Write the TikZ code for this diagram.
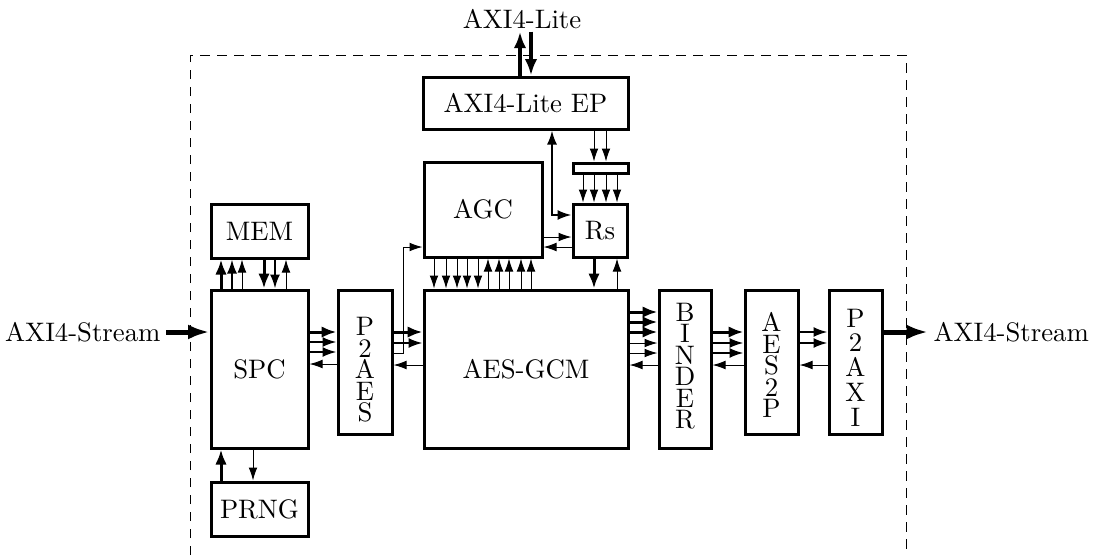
\documentclass[tikz,border=0pt]{standalone}
\usetikzlibrary{arrows.meta}
\begin{document}
\begin{tikzpicture}[x=0.4pt,y=-0.4pt,
  every node/.style={font=\fontsize{10.7}{13}\selectfont},
  blk/.style={draw,line width=1.2pt,inner sep=0pt,rectangle},
  sz/.style 2 args={minimum width=#1*0.4pt,minimum height=#2*0.4pt},
  thinar/.style={line width=0.4pt,-{Latex[length=5.2pt,width=3.5pt]}},
  medar/.style={line width=0.8pt,-{Latex[length=5.6pt,width=4pt]}},
  thickar/.style={line width=1.2pt,-{Latex[length=6pt,width=4.6pt]}},
  litear/.style={line width=1.6pt,-{Latex[length=6.6pt,width=5pt]}},
  streamar/.style={line width=2pt,-{Latex[length=8.6pt,width=6pt]}},
  frame/.style={line width=0.4pt,dash pattern=on 3.8pt off 3pt},
  vtext/.style={align=center,inner sep=0pt,font=\fontsize{10.7}{8.6}\selectfont},
]
\useasboundingbox (0,0) rectangle (1094,555);

% dashed frame
\draw[frame] (190,555) -- (190,55) -- (906,55) -- (906,555);

% blocks
\node[blk,sz={205}{52}] (ep) at (525.5,103) {AXI4-Lite EP};
\node[blk,sz={55}{10}] (bar) at (600.5,168) {};
\node[blk,sz={118}{95}] (agc) at (483,209.5) {AGC};
\node[blk,sz={54}{53}] (rs) at (600,230.5) {Rs};
\node[blk,sz={97}{54}] (mem) at (259.5,231) {MEM};
\node[blk,sz={97}{158}] (spc) at (259.5,369) {SPC};
\node[blk,sz={97}{54}] (prng) at (259.5,509) {PRNG};
\node[blk,sz={54}{144}] (p2aes) at (365,362) {};
\node[blk,sz={204}{158}] (gcm) at (526,369) {AES-GCM};
\node[blk,sz={52}{158}] (binder) at (685,369) {};
\node[blk,sz={53}{144}] (aes2p) at (771.5,362) {};
\node[blk,sz={53}{144}] (p2axi) at (855.5,362) {};

% vertical labels
\node[vtext] (t1) at (365,370) {P\\2\\A\\E\\S};
\node[vtext] (t2) at (685,366) {B\\I\\N\\D\\E\\R};
\node[vtext] (t3) at (771.5,365) {A\\E\\S\\2\\P};
\node[vtext,font=\fontsize{10.7}{9.9}\selectfont] (t4) at (855.5,367.5) {P\\2\\A\\X\\I};

% outside labels
\node[inner sep=1pt] (lite) at (522,19) {AXI4-Lite};
\node[anchor=east,inner sep=2pt] (sin) at (166,332) {AXI4-Stream};
\node[anchor=west,inner sep=2pt] (sout) at (928,332) {AXI4-Stream};

% AXI4-Lite
\draw[litear] (ep.north -| 520,0) -- (lite.south -| 520,0);
\draw[litear] (lite.south -| 531,0) -- (ep.north -| 531,0);

% EP -> bar -> Rs
\foreach \x in {594,606} \draw[thinar] (ep.south -| \x,0) -- (bar.north -| \x,0);
\foreach \x in {583,594,606,617} \draw[thinar] (bar.south -| \x,0) -- (rs.north -| \x,0);
\draw[line width=0.8pt,{Latex[length=5.6pt,width=4pt]}-{Latex[length=5.6pt,width=4pt]}] (ep.south -| 552,0) |- (rs.west |- 0,215);

% AGC <-> Rs
\draw[thinar] (agc.east |- 0,237) -- (rs.west |- 0,237);
\draw[thinar] (rs.west |- 0,247) -- (agc.east |- 0,247);

% AGC <-> AES-GCM
\foreach \x in {434,446,457,467,478} \draw[thinar] (agc.south -| \x,0) -- (gcm.north -| \x,0);
\foreach \x in {488,499,509,521,531} \draw[thinar] (gcm.north -| \x,0) -- (agc.south -| \x,0);

% Rs <-> AES-GCM
\draw[thickar] (rs.south -| 594,0) -- (gcm.north -| 594,0);
\draw[thinar] (gcm.north -| 617,0) -- (rs.south -| 617,0);

% MEM <-> SPC
\draw[thickar] (spc.north -| 221,0) -- (mem.south -| 221,0);
\draw[medar] (spc.north -| 232,0) -- (mem.south -| 232,0);
\draw[thinar] (spc.north -| 242,0) -- (mem.south -| 242,0);
\draw[thickar] (mem.south -| 264,0) -- (spc.north -| 264,0);
\draw[medar] (mem.south -| 275,0) -- (spc.north -| 275,0);
\draw[thinar] (spc.north -| 286,0) -- (mem.south -| 286,0);

% PRNG <-> SPC
\draw[thickar] (prng.north -| 221,0) -- (spc.south -| 221,0);
\draw[thinar] (spc.south -| 253,0) -- (prng.north -| 253,0);

% streams
\draw[streamar] (sin.east) -- (spc.west |- sin.east);
\draw[streamar] (p2axi.east |- sout.west) -- (sout.west);

% SPC <-> P2AES
\draw[thickar] (spc.east |- 0,332) -- (p2aes.west |- 0,332);
\draw[medar] (spc.east |- 0,342) -- (p2aes.west |- 0,342);
\draw[medar] (spc.east |- 0,352) -- (p2aes.west |- 0,352);
\draw[thinar] (p2aes.west |- 0,364) -- (spc.east |- 0,364);

% P2AES <-> AES-GCM / AGC
\draw[thickar] (p2aes.east |- 0,332) -- (gcm.west |- 0,332);
\draw[medar] (p2aes.east |- 0,343) -- (gcm.west |- 0,343);
\draw[thinar] (p2aes.east |- 0,353) -| (403,247) -- (agc.west |- 0,247);
\draw[thinar] (gcm.west |- 0,365) -- (p2aes.east |- 0,365);

% AES-GCM <-> BINDER
\foreach \y in {312,322,332} \draw[thickar] (gcm.east |- 0,\y) -- (binder.west |- 0,\y);
\foreach \y in {343,353} \draw[thinar] (gcm.east |- 0,\y) -- (binder.west |- 0,\y);
\draw[thinar] (binder.west |- 0,365) -- (gcm.east |- 0,365);

% BINDER <-> AES2P
\draw[thickar] (binder.east |- 0,332) -- (aes2p.west |- 0,332);
\draw[medar] (binder.east |- 0,343) -- (aes2p.west |- 0,343);
\draw[medar] (binder.east |- 0,353) -- (aes2p.west |- 0,353);
\draw[thinar] (aes2p.west |- 0,365) -- (binder.east |- 0,365);

% AES2P <-> P2AXI
\draw[medar] (aes2p.east |- 0,332) -- (p2axi.west |- 0,332);
\draw[medar] (aes2p.east |- 0,343) -- (p2axi.west |- 0,343);
\draw[thinar] (p2axi.west |- 0,365) -- (aes2p.east |- 0,365);
\end{tikzpicture}
\end{document}
